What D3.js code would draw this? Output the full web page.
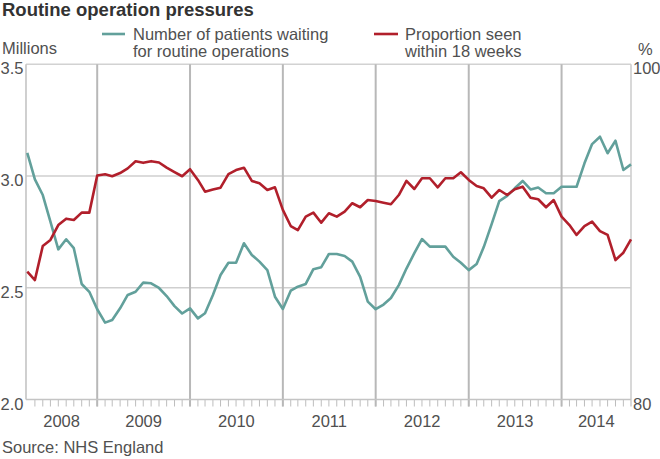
<!DOCTYPE html>
<html><head><meta charset="utf-8">
<script src="https://cdn.jsdelivr.net/npm/d3@7"></script>
<style>
body{margin:0;background:#fff}
svg{display:block}
text{font-family:"Liberation Sans",Arial,Helvetica,sans-serif}
</style>
</head><body>
<svg id="c" width="660" height="459"></svg>
<script>
// ---- data ----
const months = [
 "2008-04","2008-05","2008-06","2008-07","2008-08","2008-09","2008-10","2008-11","2008-12",
 "2009-01","2009-02","2009-03","2009-04","2009-05","2009-06","2009-07","2009-08","2009-09","2009-10","2009-11","2009-12",
 "2010-01","2010-02","2010-03","2010-04","2010-05","2010-06","2010-07","2010-08","2010-09","2010-10","2010-11","2010-12",
 "2011-01","2011-02","2011-03","2011-04","2011-05","2011-06","2011-07","2011-08","2011-09","2011-10","2011-11","2011-12",
 "2012-01","2012-02","2012-03","2012-04","2012-05","2012-06","2012-07","2012-08","2012-09","2012-10","2012-11","2012-12",
 "2013-01","2013-02","2013-03","2013-04","2013-05","2013-06","2013-07","2013-08","2013-09","2013-10","2013-11","2013-12",
 "2014-01","2014-02","2014-03","2014-04","2014-05","2014-06","2014-07","2014-08","2014-09","2014-10"
];
// Number of patients waiting for routine operations (millions)
const waiting = [
 3.104,2.985,2.915,2.796,2.672,2.717,2.677,2.517,2.482,
 2.404,2.344,2.356,2.408,2.468,2.482,2.523,2.520,2.499,2.463,2.418,2.385,
 2.408,2.363,2.386,2.468,2.557,2.612,2.612,2.699,2.647,2.617,2.579,2.460,
 2.405,2.487,2.505,2.517,2.583,2.592,2.651,2.651,2.642,2.617,2.549,2.438,
 2.404,2.425,2.454,2.512,2.586,2.655,2.718,2.684,2.684,2.684,2.639,2.612,
 2.579,2.606,2.682,2.785,2.888,2.911,2.945,2.978,2.940,2.949,2.923,2.923,
 2.952,2.952,2.952,3.057,3.143,3.176,3.102,3.158,3.027,3.052
];
// Proportion seen within 18 weeks (%)
const within18 = [
 87.63,87.13,89.16,89.52,90.41,90.79,90.71,91.15,91.15,
 93.37,93.44,93.32,93.51,93.79,94.21,94.12,94.22,94.14,93.84,93.57,93.32,
 93.74,93.10,92.40,92.53,92.64,93.45,93.69,93.83,93.04,92.90,92.50,92.66,
 91.31,90.35,90.11,90.91,91.15,90.55,91.11,90.91,91.21,91.71,91.47,91.90,
 91.84,91.74,91.65,92.20,93.04,92.56,93.20,93.20,92.66,93.20,93.20,93.56,
 93.10,92.74,92.60,92.04,92.50,92.20,92.54,92.70,92.04,91.95,91.47,91.90,
 90.91,90.41,89.82,90.35,90.61,90.05,89.82,88.32,88.76,89.56
];
const leftTicks = [2.0, 2.5, 3.0, 3.5];
const rightTicks = [80, 100];
const yearLabels = ["2008","2009","2010","2011","2012","2013","2014"];
const seriesNames = [["Number of patients waiting","for routine operations"],["Proportion seen","within 18 weeks"]];
const titleText = "Routine operation pressures";
const sourceText = "Source: NHS England";

// ---- layout ----
const L = 26, R = 631, T = 64.3, B = 399.5;
const TEAL = "#62a09b", RED = "#b11f2b", LABEL = "#505050";
const svg = d3.select("#c");
svg.append("rect").attr("width",660).attr("height",459).attr("fill","#fff");

const parse = d3.timeParse("%Y-%m");
const dates = months.map(parse);
const x = d3.scaleTime().domain([new Date(2008,2,27), new Date(2014,9,1)]).range([L, R]);
const yL = d3.scaleLinear().domain([2, 3.5]).range([B, T]);
const yR = d3.scaleLinear().domain([80, 100]).range([B, T]);

// horizontal gridlines
svg.append("g").selectAll("line").data(leftTicks.filter(d => d > 2 && d < 3.5)).join("line")
  .attr("x1", L).attr("x2", R).attr("y1", d => yL(d)).attr("y2", d => yL(d))
  .attr("stroke", "#cfcfcf").attr("stroke-width", 1.6);
// frame top/right
svg.append("line").attr("x1", L).attr("x2", R).attr("y1", yL(3.5)).attr("y2", yL(3.5)).attr("stroke", "#d2d2d2").attr("stroke-width", 1.6);
svg.append("line").attr("x1", R).attr("x2", R).attr("y1", T).attr("y2", B + 7).attr("stroke", "#cfcfcf").attr("stroke-width", 1.6);

// month ticks
const monthTicks = d3.timeMonths(x.domain()[0], x.domain()[1]).filter(d => x(d) > L + 3 && x(d) < R - 2);
svg.append("g").selectAll("line").data(monthTicks).join("line")
  .attr("x1", d => x(d)).attr("x2", d => x(d)).attr("y1", B).attr("y2", B + 7)
  .attr("stroke", "#bdbdbd").attr("stroke-width", 1);

// year gridlines
const yearLines = d3.timeYears(x.domain()[0], x.domain()[1]);
svg.append("g").selectAll("line").data(yearLines).join("line")
  .attr("x1", d => x(d)).attr("x2", d => x(d)).attr("y1", T).attr("y2", B + 7)
  .attr("stroke", "#b8b8b8").attr("stroke-width", 2);

// left & bottom axis lines
svg.append("line").attr("x1", L).attr("x2", L).attr("y1", T).attr("y2", B).attr("stroke", "#c4c4c4").attr("stroke-width", 1.6);
svg.append("line").attr("x1", L).attr("x2", R).attr("y1", B).attr("y2", B).attr("stroke", "#c4c4c4").attr("stroke-width", 1.6);

// lines
const lineL = d3.line().x((d, i) => x(dates[i])).y(d => yL(d));
const lineR = d3.line().x((d, i) => x(dates[i])).y(d => yR(d));
svg.append("path").datum(waiting).attr("d", lineL).attr("fill", "none").attr("stroke", TEAL).attr("stroke-width", 2.6).attr("stroke-linejoin", "round");
svg.append("path").datum(within18).attr("d", lineR).attr("fill", "none").attr("stroke", RED).attr("stroke-width", 2.6).attr("stroke-linejoin", "round");

// left tick labels
svg.append("g").selectAll("text").data(leftTicks).join("text")
  .attr("x", 23.5).attr("y", d => yL(d) + 10).attr("text-anchor", "end")
  .attr("font-size", 16.5).attr("fill", LABEL).text(d3.format(".1f"));
// right tick labels
svg.append("g").selectAll("text").data(rightTicks).join("text")
  .attr("x", 633).attr("y", d => yR(d) + 10)
  .attr("font-size", 16.5).attr("fill", LABEL).text(d => d);

// year labels
const bounds = [x.domain()[0], ...yearLines, x.domain()[1]];
svg.append("g").selectAll("text").data(yearLabels).join("text")
  .attr("x", (d, i) => (Math.max(L, x(bounds[i])) + Math.min(R, x(bounds[i + 1]))) / 2)
  .attr("y", 427).attr("text-anchor", "middle")
  .attr("font-size", 16.5).attr("fill", LABEL).text(d => d);

// title, units, source
svg.append("text").attr("x", 2).attr("y", 16).attr("font-size", 18.5).attr("font-weight", "bold").attr("fill", "#333").text(titleText);
svg.append("text").attr("x", 2).attr("y", 54).attr("font-size", 16.5).attr("fill", LABEL).text("Millions");
svg.append("text").attr("x", 638).attr("y", 55).attr("font-size", 16.5).attr("fill", LABEL).text("%");
svg.append("text").attr("x", 2).attr("y", 453).attr("font-size", 16.5).attr("fill", LABEL).text(sourceText);

// legend
const legend = [
  {color: TEAL, x1: 102, x2: 125, tx: 133, lines: seriesNames[0]},
  {color: RED, x1: 374, x2: 398, tx: 405, lines: seriesNames[1]}
];
const lg = svg.append("g").selectAll("g").data(legend).join("g");
lg.append("line").attr("x1", d => d.x1).attr("x2", d => d.x2).attr("y1", 34).attr("y2", 34)
  .attr("stroke", d => d.color).attr("stroke-width", 2.6);
lg.each(function(d) {
  d3.select(this).selectAll("text").data(d.lines).join("text")
    .attr("x", d.tx).attr("y", (t, i) => 40.3 + i * 16.5)
    .attr("font-size", 16.5).attr("fill", LABEL).text(t => t);
});
</script>
</body></html>
